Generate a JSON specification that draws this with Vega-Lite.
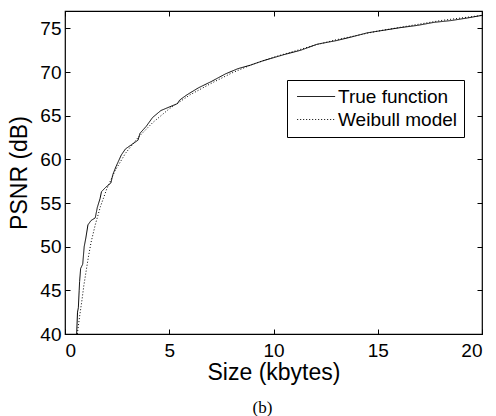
{
  "$schema": "https://vega.github.io/schema/vega-lite/v6.json",
  "width": 417,
  "height": 323,
  "autosize": {"type": "none"},
  "padding": {"left": 65, "top": 11, "right": 14, "bottom": 82},
  "background": "white",
  "config": {
    "font": "Liberation Sans",
    "view": {"stroke": "black", "strokeWidth": 1.2},
    "axis": {"grid": false, "domain": false, "tickColor": "black", "labelColor": "black", "titleColor": "black", "labelFont": "Liberation Sans", "titleFont": "Liberation Sans", "labelFontSize": 19, "titleFontSize": 23, "titleFontWeight": "normal", "tickSize": -5, "tickWidth": 1}
  },
  "title": {"text": "(b)", "orient": "bottom", "font": "Liberation Serif", "fontSize": 17, "fontWeight": "normal", "color": "black", "dx": -11, "offset": 16},
  "data": {"values": [
    {"s": "True function", "x": 0.56, "y": 40},
    {"s": "True function", "x": 0.60, "y": 42.5},
    {"s": "True function", "x": 0.64, "y": 43},
    {"s": "True function", "x": 0.68, "y": 45},
    {"s": "True function", "x": 0.70, "y": 46},
    {"s": "True function", "x": 0.75, "y": 47.5},
    {"s": "True function", "x": 0.85, "y": 48},
    {"s": "True function", "x": 0.92, "y": 50},
    {"s": "True function", "x": 1.0, "y": 51},
    {"s": "True function", "x": 1.1, "y": 52.5},
    {"s": "True function", "x": 1.25, "y": 53},
    {"s": "True function", "x": 1.45, "y": 53.3},
    {"s": "True function", "x": 1.55, "y": 54.5},
    {"s": "True function", "x": 1.68, "y": 55.5},
    {"s": "True function", "x": 1.75, "y": 56.3},
    {"s": "True function", "x": 1.95, "y": 56.8},
    {"s": "True function", "x": 2.2, "y": 57.3},
    {"s": "True function", "x": 2.3, "y": 58.3},
    {"s": "True function", "x": 2.45, "y": 59.2},
    {"s": "True function", "x": 2.7, "y": 60.5},
    {"s": "True function", "x": 2.9, "y": 61.2},
    {"s": "True function", "x": 3.2, "y": 61.7},
    {"s": "True function", "x": 3.5, "y": 62.2},
    {"s": "True function", "x": 3.6, "y": 63.0},
    {"s": "True function", "x": 3.9, "y": 63.8},
    {"s": "True function", "x": 4.2, "y": 64.8},
    {"s": "True function", "x": 4.6, "y": 65.6},
    {"s": "True function", "x": 5.0, "y": 66.0},
    {"s": "True function", "x": 5.4, "y": 66.4},
    {"s": "True function", "x": 5.5, "y": 66.8},
    {"s": "True function", "x": 5.85, "y": 67.4},
    {"s": "True function", "x": 6.4, "y": 68.2},
    {"s": "True function", "x": 7.0, "y": 68.9},
    {"s": "True function", "x": 7.7, "y": 69.8},
    {"s": "True function", "x": 8.3, "y": 70.4},
    {"s": "True function", "x": 8.9, "y": 70.8},
    {"s": "True function", "x": 9.5, "y": 71.3},
    {"s": "True function", "x": 10.5, "y": 72.0},
    {"s": "True function", "x": 11.3, "y": 72.5},
    {"s": "True function", "x": 12.1, "y": 73.2},
    {"s": "True function", "x": 13.0, "y": 73.6},
    {"s": "True function", "x": 13.7, "y": 74.0},
    {"s": "True function", "x": 14.5, "y": 74.5},
    {"s": "True function", "x": 15.3, "y": 74.8},
    {"s": "True function", "x": 16.1, "y": 75.1},
    {"s": "True function", "x": 16.9, "y": 75.35},
    {"s": "True function", "x": 17.7, "y": 75.7},
    {"s": "True function", "x": 18.5, "y": 75.9},
    {"s": "True function", "x": 19.3, "y": 76.2},
    {"s": "True function", "x": 20, "y": 76.5},
    {"s": "Weibull model", "x": 0.59, "y": 40},
    {"s": "Weibull model", "x": 0.7, "y": 42},
    {"s": "Weibull model", "x": 0.82, "y": 44},
    {"s": "Weibull model", "x": 0.9, "y": 45.5},
    {"s": "Weibull model", "x": 1.0, "y": 47},
    {"s": "Weibull model", "x": 1.12, "y": 48.8},
    {"s": "Weibull model", "x": 1.25, "y": 50.5},
    {"s": "Weibull model", "x": 1.45, "y": 52.5},
    {"s": "Weibull model", "x": 1.7, "y": 54.6},
    {"s": "Weibull model", "x": 2.0, "y": 56.6},
    {"s": "Weibull model", "x": 2.4, "y": 58.7},
    {"s": "Weibull model", "x": 2.9, "y": 60.7},
    {"s": "Weibull model", "x": 3.5, "y": 62.5},
    {"s": "Weibull model", "x": 4.2, "y": 64.2},
    {"s": "Weibull model", "x": 5.0, "y": 65.8},
    {"s": "Weibull model", "x": 6.0, "y": 67.4},
    {"s": "Weibull model", "x": 7.0, "y": 68.7},
    {"s": "Weibull model", "x": 8.0, "y": 69.9},
    {"s": "Weibull model", "x": 9.0, "y": 70.9},
    {"s": "Weibull model", "x": 10, "y": 71.7},
    {"s": "Weibull model", "x": 11, "y": 72.4},
    {"s": "Weibull model", "x": 12, "y": 73.1},
    {"s": "Weibull model", "x": 13, "y": 73.7},
    {"s": "Weibull model", "x": 14, "y": 74.2},
    {"s": "Weibull model", "x": 15, "y": 74.7},
    {"s": "Weibull model", "x": 16, "y": 75.1},
    {"s": "Weibull model", "x": 17, "y": 75.5},
    {"s": "Weibull model", "x": 18, "y": 75.9},
    {"s": "Weibull model", "x": 19, "y": 76.2},
    {"s": "Weibull model", "x": 20, "y": 76.5}
  ]},
  "layer": [
    {
      "mark": {"type": "line", "color": "black", "strokeWidth": 1, "clip": true},
      "encoding": {
        "x": {"field": "x", "type": "quantitative", "scale": {"domain": [0, 20], "nice": false, "zero": false},
              "axis": {"orient": "bottom", "values": [0, 5, 10, 15, 20], "title": "Size (kbytes)", "labelPadding": 12, "titlePadding": 1}},
        "y": {"field": "y", "type": "quantitative", "scale": {"domain": [40, 77], "nice": false, "zero": false},
              "axis": {"orient": "left", "values": [40, 45, 50, 55, 60, 65, 70, 75], "title": "PSNR (dB)", "labelPadding": 9, "titlePadding": 8}},
        "strokeDash": {"field": "s", "type": "nominal", "sort": ["True function", "Weibull model"],
              "scale": {"domain": ["True function", "Weibull model"], "range": [[1, 0], [1, 2]]},
              "legend": {"title": null, "orient": "none", "legendX": 222, "legendY": 69, "strokeColor": "black", "fillColor": "white", "padding": 7, "labelFontSize": 19, "labelFont": "Liberation Sans", "labelColor": "black", "symbolType": "M-1,0L5,0", "symbolSize": 160, "symbolStrokeColor": "black", "symbolStrokeWidth": 1, "rowPadding": 3, "labelOffset": 25, "cornerRadius": 0}}
      }
    },
    {
      "mark": {"type": "line", "opacity": 0},
      "encoding": {
        "x": {"field": "x", "type": "quantitative", "axis": {"orient": "top", "values": [0, 5, 10, 15, 20], "labels": false, "title": null}},
        "y": {"field": "y", "type": "quantitative", "axis": {"orient": "right", "values": [40, 45, 50, 55, 60, 65, 70, 75], "labels": false, "title": null}},
        "detail": {"field": "s"}
      }
    }
  ],
  "resolve": {"axis": {"x": "independent", "y": "independent"}}
}
